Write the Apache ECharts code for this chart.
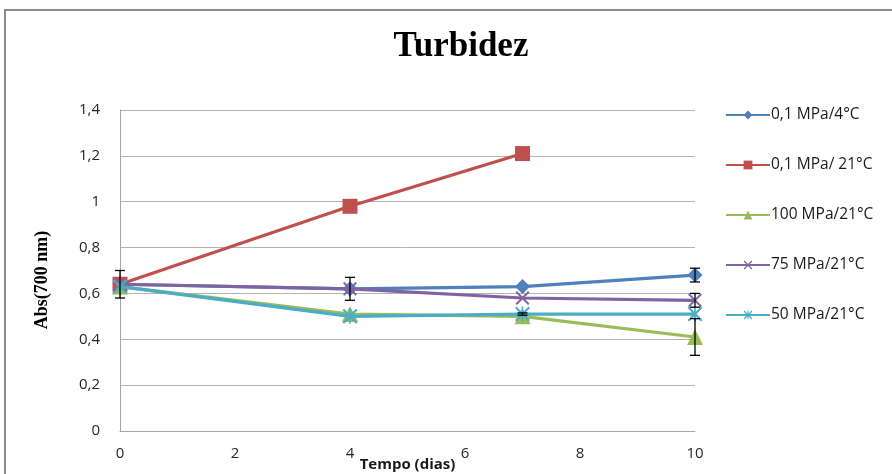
<!DOCTYPE html>
<html>
<head>
<meta charset="utf-8">
<script src="https://cdn.jsdelivr.net/npm/echarts@6/dist/echarts.min.js"></script>
<style>
  html, body { margin: 0; padding: 0; background: #fff; }
  #chart { width: 892px; height: 474px; }
</style>
</head>
<body>
<div id="chart"></div>
<script>
// Turbidity (absorbance at 700 nm) over storage time, per pressure/temperature condition
const days = [0, 4, 7, 10];
const xTicks = [0, 2, 4, 6, 8, 10];
const yTicks = [0, 0.2, 0.4, 0.6, 0.8, 1, 1.2, 1.4];

const seriesNames = ['0,1 MPa/4°C', '0,1 MPa/ 21°C', '100 MPa/21°C', '75 MPa/21°C', '50 MPa/21°C'];
const absBlue   = [0.64, 0.62, 0.63, 0.68];
const absRed    = [0.64, 0.98, 1.21];          // no reading on day 10
const absGreen  = [0.63, 0.51, 0.50, 0.41];
const absPurple = [0.64, 0.62, 0.58, 0.57];
const absCyan   = [0.63, 0.50, 0.51, 0.51];

// standard deviations (0 = no bar drawn)
const errBlue   = [0.06, 0.05, 0, 0.03];
const errRed    = [0, 0, 0];
const errGreen  = [0, 0, 0, 0.08];
const errPurple = [0, 0, 0, 0.03];
const errCyan   = [0, 0, 0.005, 0];

const colors = ['#4F81BD', '#C0504D', '#9BBB59', '#8064A2', '#4BACC6'];

// marker shapes: cross and asterisk as filled outlines
const crossPath = 'path://M0,1 L1,0 L5,4 L9,0 L10,1 L6,5 L10,9 L9,10 L5,6 L1,10 L0,9 L4,5 Z';
const starPath = 'path://M0,1 L1,0 L5,4 L9,0 L10,1 L6,5 L10,9 L9,10 L5,6 L1,10 L0,9 L4,5 Z M4.45,0 L5.55,0 L5.55,10 L4.45,10 Z';
const symbols = ['diamond', 'rect', 'triangle', crossPath, starPath];
const symbolSizes = [15, 15, 16, 14, 15];

const values = [absBlue, absRed, absGreen, absPurple, absCyan];
const errors = [errBlue, errRed, errGreen, errPurple, errCyan];

const pairs = v => v.map((y, i) => [days[i], y]);

const lineSeries = values.map((v, k) => ({
  name: seriesNames[k],
  type: 'line',
  data: pairs(v),
  symbol: symbols[k],
  symbolSize: symbolSizes[k],
  showAllSymbol: true,
  lineStyle: { color: colors[k], width: 3.2 },
  itemStyle: { color: colors[k] },
  emphasis: { disabled: true },
  z: 3 + k
}));

// error bars drawn through the axis scales
const errData = [];
values.forEach((v, k) => {
  v.forEach((y, i) => {
    if (errors[k][i] > 0) errData.push([days[i], y - errors[k][i], y + errors[k][i]]);
  });
});

const errSeries = {
  type: 'custom',
  data: errData,
  z: 20,
  silent: true,
  renderItem: function (params, api) {
    const x = api.value(0);
    const lo = api.coord([x, api.value(1)]);
    const hi = api.coord([x, api.value(2)]);
    const w = 5;
    const style = { stroke: '#000', lineWidth: 1.3 };
    return {
      type: 'group',
      children: [
        { type: 'line', shape: { x1: lo[0], y1: lo[1], x2: hi[0], y2: hi[1] }, style: style },
        { type: 'line', shape: { x1: lo[0] - w, y1: lo[1], x2: lo[0] + w, y2: lo[1] }, style: style },
        { type: 'line', shape: { x1: hi[0] - w, y1: hi[1], x2: hi[0] + w, y2: hi[1] }, style: style }
      ]
    };
  }
};

const chart = echarts.init(document.getElementById('chart'), null, { renderer: 'canvas' });
chart.setOption({
  animation: false,
  backgroundColor: '#fff',
  graphic: [
    {
      type: 'rect',
      shape: { x: 5, y: 10, width: 920, height: 500 },
      style: { fill: 'none', stroke: '#8c8c8c', lineWidth: 2 },
      silent: true
    },
    {
      // vertical axis title
      type: 'text',
      x: 42,
      y: 280,
      rotation: Math.PI / 2,
      style: {
        text: 'Abs(700 nm)',
        fontFamily: 'Liberation Serif',
        fontWeight: 'bold',
        fontSize: 18,
        fill: '#000',
        align: 'center',
        verticalAlign: 'middle'
      },
      silent: true
    }
  ],
  title: {
    text: 'Turbidez',
    left: 456,
    top: 24,
    textAlign: 'center',
    textStyle: { fontFamily: 'Liberation Serif', fontWeight: 'bold', fontSize: 35, color: '#000' }
  },
  legend: {
    orient: 'vertical',
    left: 720,
    top: 102,
    itemWidth: 44,
    itemHeight: 11,
    itemGap: 34,
    data: seriesNames,
    textStyle: { fontFamily: 'Open Sans', fontSize: 15.5, color: '#1a1a1a', padding: [0, 0, 0, -4] }
  },
  grid: { left: 120, right: 197, top: 110, bottom: 43, outerBoundsMode: 'none' },
  xAxis: {
    type: 'value',
    min: xTicks[0],
    max: xTicks[xTicks.length - 1],
    interval: xTicks[1] - xTicks[0],
    name: 'Tempo (dias)',
    nameLocation: 'middle',
    nameGap: 26,
    nameMoveOverlap: false,
    nameTextStyle: { fontFamily: 'Open Sans', fontWeight: 'bold', fontSize: 15, color: '#1a1a1a' },
    axisLine: { lineStyle: { color: '#a6a6a6', width: 1 } },
    axisTick: { show: false },
    splitLine: { show: false },
    axisLabel: { margin: 15, fontFamily: 'Open Sans', fontSize: 15, color: '#262626' }
  },
  yAxis: {
    type: 'value',
    min: yTicks[0],
    max: yTicks[yTicks.length - 1],
    interval: yTicks[1] - yTicks[0],
    axisLine: { show: true, lineStyle: { color: '#a6a6a6', width: 1 } },
    axisTick: { show: false },
    splitLine: { lineStyle: { color: '#b3b3b3', width: 1 } },
    axisLabel: {
      margin: 20,
      fontFamily: 'Open Sans',
      fontSize: 15,
      color: '#262626',
      formatter: v => String(Math.round(v * 10) / 10).replace('.', ',')
    }
  },
  series: lineSeries.concat([errSeries])
});
</script>
</body>
</html>
